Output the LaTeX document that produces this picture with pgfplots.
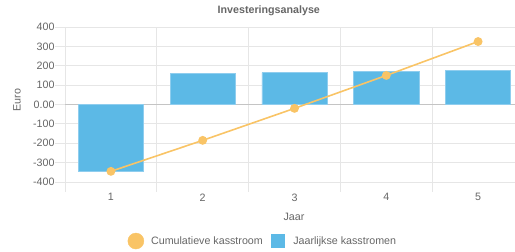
\documentclass[border=0pt]{standalone}
\usepackage{pgfplots}
\pgfplotsset{compat=1.18}
\usepackage{fontspec}
\setmainfont{Liberation Sans}
\definecolor{barblue}{HTML}{5CB9E6}
\definecolor{baredge}{HTML}{8FCDEE}
\definecolor{lineor}{HTML}{F9C466}
\definecolor{gridc}{HTML}{E6E6E6}
\definecolor{zeroc}{HTML}{C4C4C4}
\definecolor{txt}{HTML}{666666}
\begin{document}
\begin{tikzpicture}
\useasboundingbox (0pt,0pt) rectangle (515pt,252pt);
\begin{axis}[
 at={(65pt,70pt)}, anchor=south west,
 scale only axis, width=459pt, height=155pt,
 xmin=0.5, xmax=5.5, ymin=-400, ymax=400,
 axis line style={draw=gridc, line width=0.8pt},
 ytick={-400,-300,...,400},
 yticklabels={-400,-300,-200,-100,0.00,100,200,300,400},
 xtick={1,...,5},
 minor xtick={0.5,1.5,...,5.5},
 xminorgrids, ymajorgrids,
 grid style={draw=gridc, line width=0.8pt},
 tick align=outside, tick pos=left,
 major tick length=10pt, minor tick length=10pt,
 tick style={draw=gridc, line width=0.8pt},
 every major x tick/.append style={draw=none},
 extra y ticks={0}, extra y tick labels={},
 extra y tick style={grid style={draw=zeroc, line width=0.8pt}, draw=gridc},
 ticklabel style={font=\fontsize{10.7}{12}\selectfont, text=txt},
 yticklabel style={xshift=3pt},
 xticklabel style={yshift=2pt},
 /pgf/number format/assume math mode=true,
 every axis title shift=0pt,
 title={Investeringsanalyse},
 title style={at={(axis description cs:0.444,1.103)}, anchor=center, yshift=0pt, font=\fontsize{10.7}{12}\selectfont\bfseries, text=txt},
 ylabel={Euro},
 ylabel style={at={(axis description cs:-0.1046,0.529)}, anchor=center, font=\fontsize{10.7}{12}\selectfont, text=txt},
 xlabel={Jaar},
 xlabel style={at={(axis description cs:0.499,-0.226)}, anchor=center, font=\fontsize{10.7}{12}\selectfont, text=txt},
 legend columns=2,
 legend style={at={(axis description cs:0.429,-0.381)}, anchor=center, draw=none, fill=none,
   inner sep=0pt, column sep=0pt, nodes={inner xsep=0pt, inner ysep=1pt},
   font=\fontsize{10.7}{12}\selectfont, text=txt},
]
\addlegendimage{legend image code/.code={\fill[lineor] (8pt,0) circle (8pt); \path (0pt,0pt) (23pt,0pt);}}
\addlegendentry{Cumulatieve kasstroom}
\addlegendimage{legend image code/.code={\fill[barblue] (8pt,-6.5pt) rectangle (21pt,6.5pt); \path (0pt,0pt) (30pt,0pt);}}
\addlegendentry{Jaarlijkse kasstromen}
\addplot[ybar, bar width=0.71, fill=barblue, draw=baredge, line width=0.6pt, forget plot]
 coordinates {(1,-345) (2,160) (3,165) (4,170) (5,175)};
\addplot[lineor, line width=1.6pt, mark=*, mark size=3.6pt, mark options={fill=lineor, draw=lineor}, forget plot]
 coordinates {(1,-345) (2,-185) (3,-20) (4,150) (5,325)};
\end{axis}
\end{tikzpicture}
\end{document}
